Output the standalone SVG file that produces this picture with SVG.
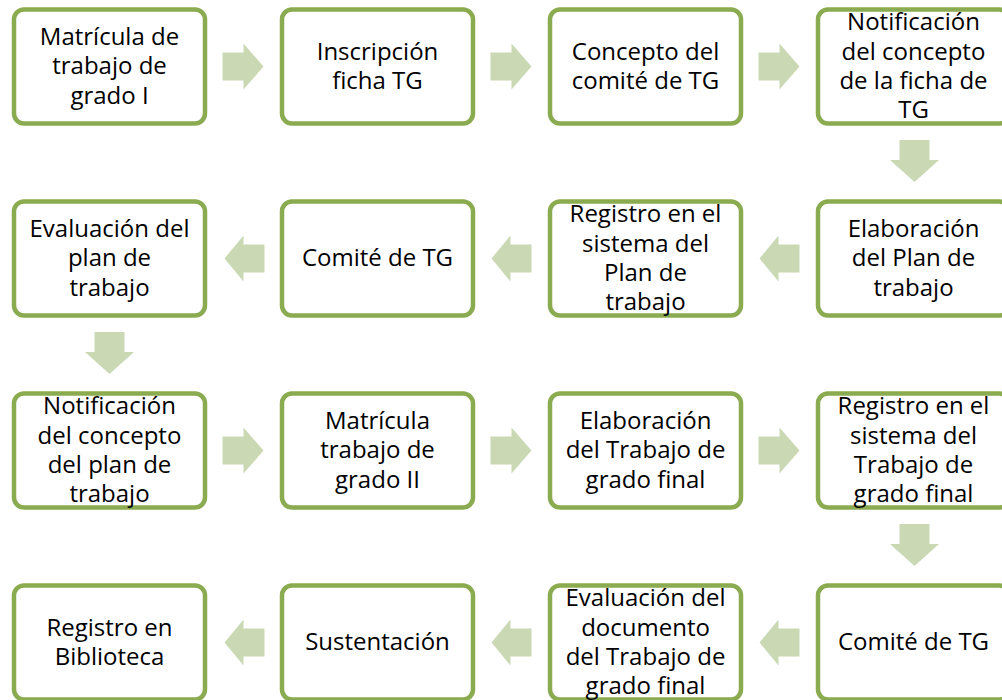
<svg xmlns="http://www.w3.org/2000/svg" xmlns:xlink="http://www.w3.org/1999/xlink" width="1002" height="700" viewBox="0 0 1002 700">
<style>
.box{fill:#ffffff;stroke:#8BAB50;stroke-width:4.5}
.arr{fill:#CAD9B4}
text{font-family:"Open Sans","Noto Sans",sans-serif;font-size:24px;fill:#000;text-anchor:middle}
</style>
<defs>
<path id="ar" d="M-20,-14 H1 V-23 L21,0 L1,23 V14 H-20 Z"/>
<path id="al" d="M20,-14 H-1 V-23 L-20,0 L-1,23 V14 H20 Z"/>
<path id="ad" d="M-15,-21 H15 V-1 H24.5 L0,21 L-24.5,-1 H-15 Z"/>
</defs>
<rect width="1002" height="700" fill="#ffffff"/>
<g id="connectors" class="arr">
<use xlink:href="#ar" href="#ar" x="242.5" y="66.5"/>
<use xlink:href="#ar" href="#ar" x="510.5" y="66.5"/>
<use xlink:href="#ar" href="#ar" x="778.5" y="66.5"/>
<use xlink:href="#ad" href="#ad" x="914.5" y="161"/>
<use xlink:href="#al" href="#al" x="779.5" y="258.5"/>
<use xlink:href="#al" href="#al" x="511.5" y="258.5"/>
<use xlink:href="#al" href="#al" x="244.5" y="258.5"/>
<use xlink:href="#ad" href="#ad" x="109.5" y="353"/>
<use xlink:href="#ar" href="#ar" x="242.5" y="450.5"/>
<use xlink:href="#ar" href="#ar" x="510.5" y="450.5"/>
<use xlink:href="#ar" href="#ar" x="778.5" y="450.5"/>
<use xlink:href="#ad" href="#ad" x="914.5" y="545"/>
<use xlink:href="#al" href="#al" x="779.5" y="642.5"/>
<use xlink:href="#al" href="#al" x="511.5" y="642.5"/>
<use xlink:href="#al" href="#al" x="244.5" y="642.5"/>
</g>
<g id="n1"><rect class="box" x="14" y="9.5" width="191" height="114" rx="10"/>
<text x="109.5"><tspan x="109.5" y="45">Matrícula de</tspan><tspan x="109.5" y="74.3">trabajo de</tspan><tspan x="109.5" y="103.6">grado I</tspan></text></g>
<g id="n2"><rect class="box" x="282" y="9.5" width="191" height="114" rx="10"/>
<text><tspan x="377.5" y="59.6">Inscripción</tspan><tspan x="377.5" y="88.9">ficha TG</tspan></text></g>
<g id="n3"><rect class="box" x="550" y="9.5" width="191" height="114" rx="10"/>
<text><tspan x="645.5" y="59.6">Concepto del</tspan><tspan x="645.5" y="88.9">comité de TG</tspan></text></g>
<g id="n4"><rect class="box" x="818" y="9.5" width="191" height="114" rx="10"/>
<text><tspan x="913.5" y="30.4">Notificación</tspan><tspan x="913.5" y="59.7">del concepto</tspan><tspan x="913.5" y="89">de la ficha de</tspan><tspan x="913.5" y="118.3">TG</tspan></text></g>
<g id="n5"><rect class="box" x="818" y="201.5" width="191" height="114" rx="10"/>
<text><tspan x="913.5" y="237">Elaboración</tspan><tspan x="913.5" y="266.3">del Plan de</tspan><tspan x="913.5" y="295.6">trabajo</tspan></text></g>
<g id="n6"><rect class="box" x="550" y="201.5" width="191" height="114" rx="10"/>
<text><tspan x="645.5" y="222.4">Registro en el</tspan><tspan x="645.5" y="251.7">sistema del</tspan><tspan x="645.5" y="281">Plan de</tspan><tspan x="645.5" y="310.3">trabajo</tspan></text></g>
<g id="n7"><rect class="box" x="282" y="201.5" width="191" height="114" rx="10"/>
<text><tspan x="377.5" y="266.3">Comité de TG</tspan></text></g>
<g id="n8"><rect class="box" x="14" y="201.5" width="191" height="114" rx="10"/>
<text><tspan x="109.5" y="237">Evaluación del</tspan><tspan x="109.5" y="266.3">plan de</tspan><tspan x="109.5" y="295.6">trabajo</tspan></text></g>
<g id="n9"><rect class="box" x="14" y="393.5" width="191" height="114" rx="10"/>
<text><tspan x="109.5" y="414.4">Notificación</tspan><tspan x="109.5" y="443.7">del concepto</tspan><tspan x="109.5" y="473">del plan de</tspan><tspan x="109.5" y="502.3">trabajo</tspan></text></g>
<g id="n10"><rect class="box" x="282" y="393.5" width="191" height="114" rx="10"/>
<text><tspan x="377.5" y="429">Matrícula</tspan><tspan x="377.5" y="458.3">trabajo de</tspan><tspan x="377.5" y="487.6">grado II</tspan></text></g>
<g id="n11"><rect class="box" x="550" y="393.5" width="191" height="114" rx="10"/>
<text><tspan x="645.5" y="429">Elaboración</tspan><tspan x="645.5" y="458.3">del Trabajo de</tspan><tspan x="645.5" y="487.6">grado final</tspan></text></g>
<g id="n12"><rect class="box" x="818" y="393.5" width="191" height="114" rx="10"/>
<text><tspan x="913.5" y="414.4">Registro en el</tspan><tspan x="913.5" y="443.7">sistema del</tspan><tspan x="913.5" y="473">Trabajo de</tspan><tspan x="913.5" y="502.3">grado final</tspan></text></g>
<g id="n13"><rect class="box" x="818" y="585.5" width="191" height="114" rx="10"/>
<text><tspan x="913.5" y="650.3">Comité de TG</tspan></text></g>
<g id="n14"><rect class="box" x="550" y="585.5" width="191" height="114" rx="10"/>
<text><tspan x="645.5" y="606.4">Evaluación del</tspan><tspan x="645.5" y="635.7">documento</tspan><tspan x="645.5" y="665">del Trabajo de</tspan><tspan x="645.5" y="694.3">grado final</tspan></text></g>
<g id="n15"><rect class="box" x="282" y="585.5" width="191" height="114" rx="10"/>
<text><tspan x="377.5" y="650.3">Sustentación</tspan></text></g>
<g id="n16"><rect class="box" x="14" y="585.5" width="191" height="114" rx="10"/>
<text><tspan x="109.5" y="635.6">Registro en</tspan><tspan x="109.5" y="664.9">Biblioteca</tspan></text></g>
</svg>
